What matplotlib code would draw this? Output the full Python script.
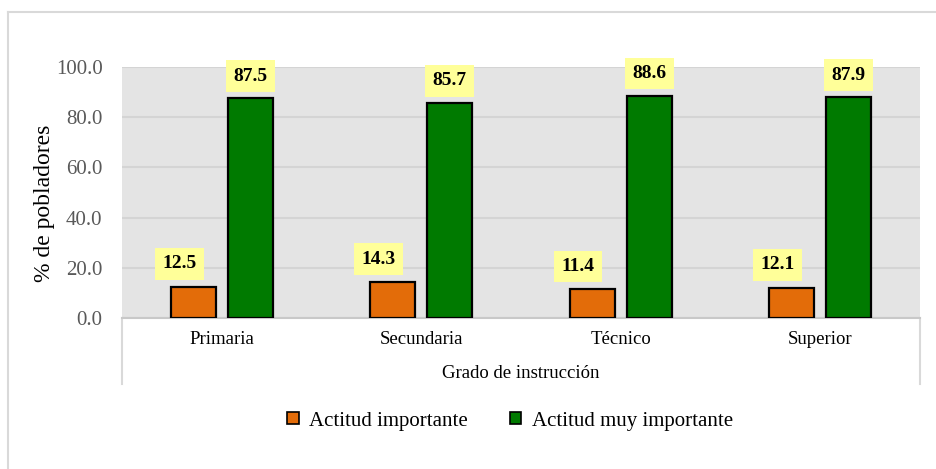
import matplotlib.pyplot as plt
import numpy as np
from matplotlib.patches import Patch
from matplotlib.lines import Line2D

plt.rcParams['font.family'] = ['Liberation Serif', 'DejaVu Serif']

# datos por grado de instruccion
grados = ['Primaria', 'Secundaria', 'Técnico', 'Superior']
importante = [12.5, 14.3, 11.4, 12.1]
muy_importante = [87.5, 85.7, 88.6, 87.9]
series = ['Actitud importante', 'Actitud muy importante']

naranja = '#E36C09'
verde = '#007A00'

W, H = 937, 469
fig = plt.figure(figsize=(W / 100, H / 100), dpi=100)
ax = fig.add_axes([122 / W, 1 - 318 / H, 798 / W, 251 / H])
ax.set_facecolor('#E4E4E4')

x = np.arange(len(grados))
ancho = 0.226
desp = 0.143
b1 = ax.bar(x - desp, importante, ancho, color=naranja, edgecolor='black', linewidth=1.6, zorder=3)
b2 = ax.bar(x + desp, muy_importante, ancho, color=verde, edgecolor='black', linewidth=1.6, zorder=3)

# etiquetas con fondo amarillo
caja = dict(boxstyle='square,pad=0.38', facecolor='#FFFF99', edgecolor='none')
for rect, v in zip(b1, importante):
    ax.annotate(f'{v:.1f}', (rect.get_x() + rect.get_width() / 2, v),
                xytext=(-10, 16.5), textcoords='offset points', ha='center', va='center',
                fontsize=14, fontweight='bold', bbox=caja, zorder=4)
for rect, v in zip(b2, muy_importante):
    ax.annotate(f'{v:.1f}', (rect.get_x() + rect.get_width() / 2, v),
                xytext=(0, 16), textcoords='offset points', ha='center', va='center',
                fontsize=14, fontweight='bold', bbox=caja, zorder=4)

ax.set_xlim(-0.5, 3.5)
ax.set_ylim(0, 100)
ax.set_yticks(np.arange(0, 101, 20))
ax.set_yticklabels([f'{t:.1f}' for t in np.arange(0, 101, 20)], fontsize=15, color='#595959')
ax.yaxis.grid(True, color='#D4D4D4', linewidth=1.5, zorder=0)
ax.set_axisbelow(True)
ax.set_xticks(x)
ax.set_xticklabels(grados, fontsize=13.5)
ax.tick_params(axis='both', length=0)
ax.tick_params(axis='x', pad=9)
ax.tick_params(axis='y', pad=14)
for s in ['top', 'right', 'left']:
    ax.spines[s].set_visible(False)
ax.spines['bottom'].set_color('#C8C8C8')
ax.spines['bottom'].set_linewidth(1.5)

# separadores del eje de categorias
for xx in (0, 1):
    ax.plot([xx, xx], [0, -66 / 251], transform=ax.transAxes, color='#D9D9D9',
            linewidth=1.5, clip_on=False)
ax.text(0.5, -56 / 251, 'Grado de instrucción', transform=ax.transAxes,
        ha='center', va='center', fontsize=13.5)

ax.set_ylabel('% de pobladores', fontsize=17)
ax.yaxis.set_label_coords(-67 / 798, 0.455)

# borde exterior
fig.add_artist(Line2D([8 / W, 8 / W], [0, 1 - 12 / H], color='#D9D9D9', linewidth=1.5))
fig.add_artist(Line2D([8 / W, 1], [1 - 12 / H, 1 - 12 / H], color='#D9D9D9', linewidth=1.5))

handles = [Patch(facecolor=naranja, edgecolor='black', linewidth=1.2),
           Patch(facecolor=verde, edgecolor='black', linewidth=1.2)]
fig.legend(handles, series, loc='center', bbox_to_anchor=(510 / W, 1 - 421 / H), ncol=2,
           frameon=False, fontsize=15, handlelength=0.55, handleheight=0.55,
           handletextpad=0.5, columnspacing=2.0)

fig.savefig('out.png', dpi=100)
